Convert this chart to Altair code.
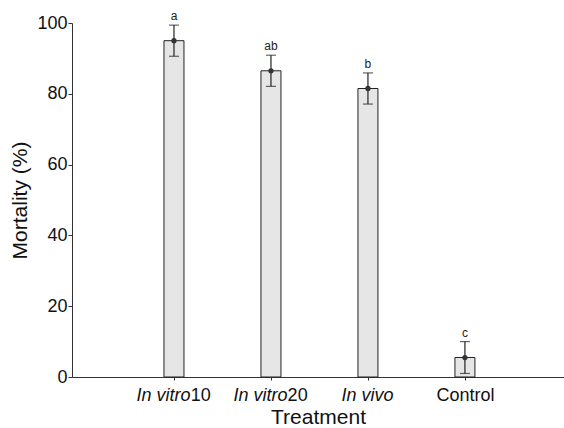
import altair as alt
import pandas as pd

# ---- data ----
treatments = ["In vitro10", "In vitro20", "In vivo", "Control"]
italic_parts = ["In vitro", "In vitro", "In vivo", ""]
plain_parts = ["10", "20", "", "Control"]
positions = [1, 2, 3, 4]
mortality = [95.0, 86.5, 81.5, 5.5]
errors = [4.4, 4.4, 4.4, 4.5]
letters = ["a", "ab", "b", "c"]
y_ticks = [0, 20, 40, 60, 80, 100]

# ---- layout helpers ----
W, H = 492, 354
X_MAX = 4.97
PX_PER_UNIT = W / X_MAX
FONT = "Liberation Sans"
LABEL_SIZE = 18

# Arial/Liberation Sans advance widths (per 1000 em)
CHAR_W = {"I": 278, "n": 556, " ": 278, "v": 500, "i": 222, "t": 278, "r": 333,
          "o": 556, "1": 556, "0": 556, "2": 556, "C": 722, "l": 222}


def text_px(s, size=LABEL_SIZE):
    return sum(CHAR_W.get(c, 556) for c in s) * size / 1000.0


rows = []
for t, ip, pp, p, m, e, l in zip(treatments, italic_parts, plain_parts,
                                 positions, mortality, errors, letters):
    wi, wn = text_px(ip), text_px(pp)
    split_px = (wi - wn) / 2.0
    rows.append(dict(treatment=t, italic=ip, plain=pp, pos=p, mean=m,
                     lo=m - e, hi=m + e, letter=l,
                     split=p + split_px / PX_PER_UNIT))
df = pd.DataFrame(rows)

x_scale = alt.Scale(domain=[0, X_MAX], nice=False, zero=True)
y_scale = alt.Scale(domain=[0, 100], nice=False)

base = alt.Chart(df)

bars = base.mark_bar(size=20, fill="#e6e6e6", stroke="#222222", strokeWidth=1).encode(
    x=alt.X("pos:Q", scale=x_scale,
            axis=alt.Axis(values=positions, labels=False, title="Treatment",
                          titleFont=FONT, titleFontSize=21, titleFontWeight="normal",
                          titleColor="#111111", titlePadding=26,
                          tickSize=3, tickColor="#333333", domainColor="#333333",
                          grid=False)),
    y=alt.Y("mean:Q", scale=y_scale,
            axis=alt.Axis(values=y_ticks, title="Mortality (%)", titleFont=FONT,
                          titleFontSize=21, titleFontWeight="normal",
                          titleColor="#111111", titlePadding=6,
                          labelFont=FONT, labelFontSize=LABEL_SIZE, labelColor="#111111",
                          labelPadding=1, tickSize=4, tickColor="#333333",
                          domainColor="#333333", grid=False)),
)

err = base.mark_rule(color="#222222", strokeWidth=1.2).encode(
    x="pos:Q", y="lo:Q", y2="hi:Q")

caps_hi = base.mark_tick(orient="horizontal", size=10, thickness=1.2, color="#222222").encode(
    x="pos:Q", y="hi:Q")
caps_lo = base.mark_tick(orient="horizontal", size=10, thickness=1.2, color="#222222").encode(
    x="pos:Q", y="lo:Q")

dots = base.mark_point(filled=True, size=28, color="#333333", opacity=1).encode(
    x="pos:Q", y="mean:Q")

sig = base.mark_text(font=FONT, fontSize=12, baseline="alphabetic", dy=-5,
                     color="#222222").encode(x="pos:Q", y="hi:Q", text="letter:N")

lab_it = base.mark_text(font=FONT, fontSize=LABEL_SIZE, fontStyle="italic", align="right",
                        baseline="middle", color="#111111").encode(
    x="split:Q", y=alt.value(H + 19), text="italic:N")
lab_pl = base.mark_text(font=FONT, fontSize=LABEL_SIZE, align="left",
                        baseline="middle", color="#111111").encode(
    x="split:Q", y=alt.value(H + 19), text="plain:N")

chart = alt.layer(bars, err, caps_hi, caps_lo, dots, sig, lab_it, lab_pl).properties(
    width=W, height=H,
    autosize=alt.AutoSizeParams(type="none"),
    padding={"left": 72, "top": 23, "right": 0, "bottom": 51},
    background="white",
).configure_view(stroke=None)

chart.save("out.html", embed_options={"renderer": "svg", "actions": False})
